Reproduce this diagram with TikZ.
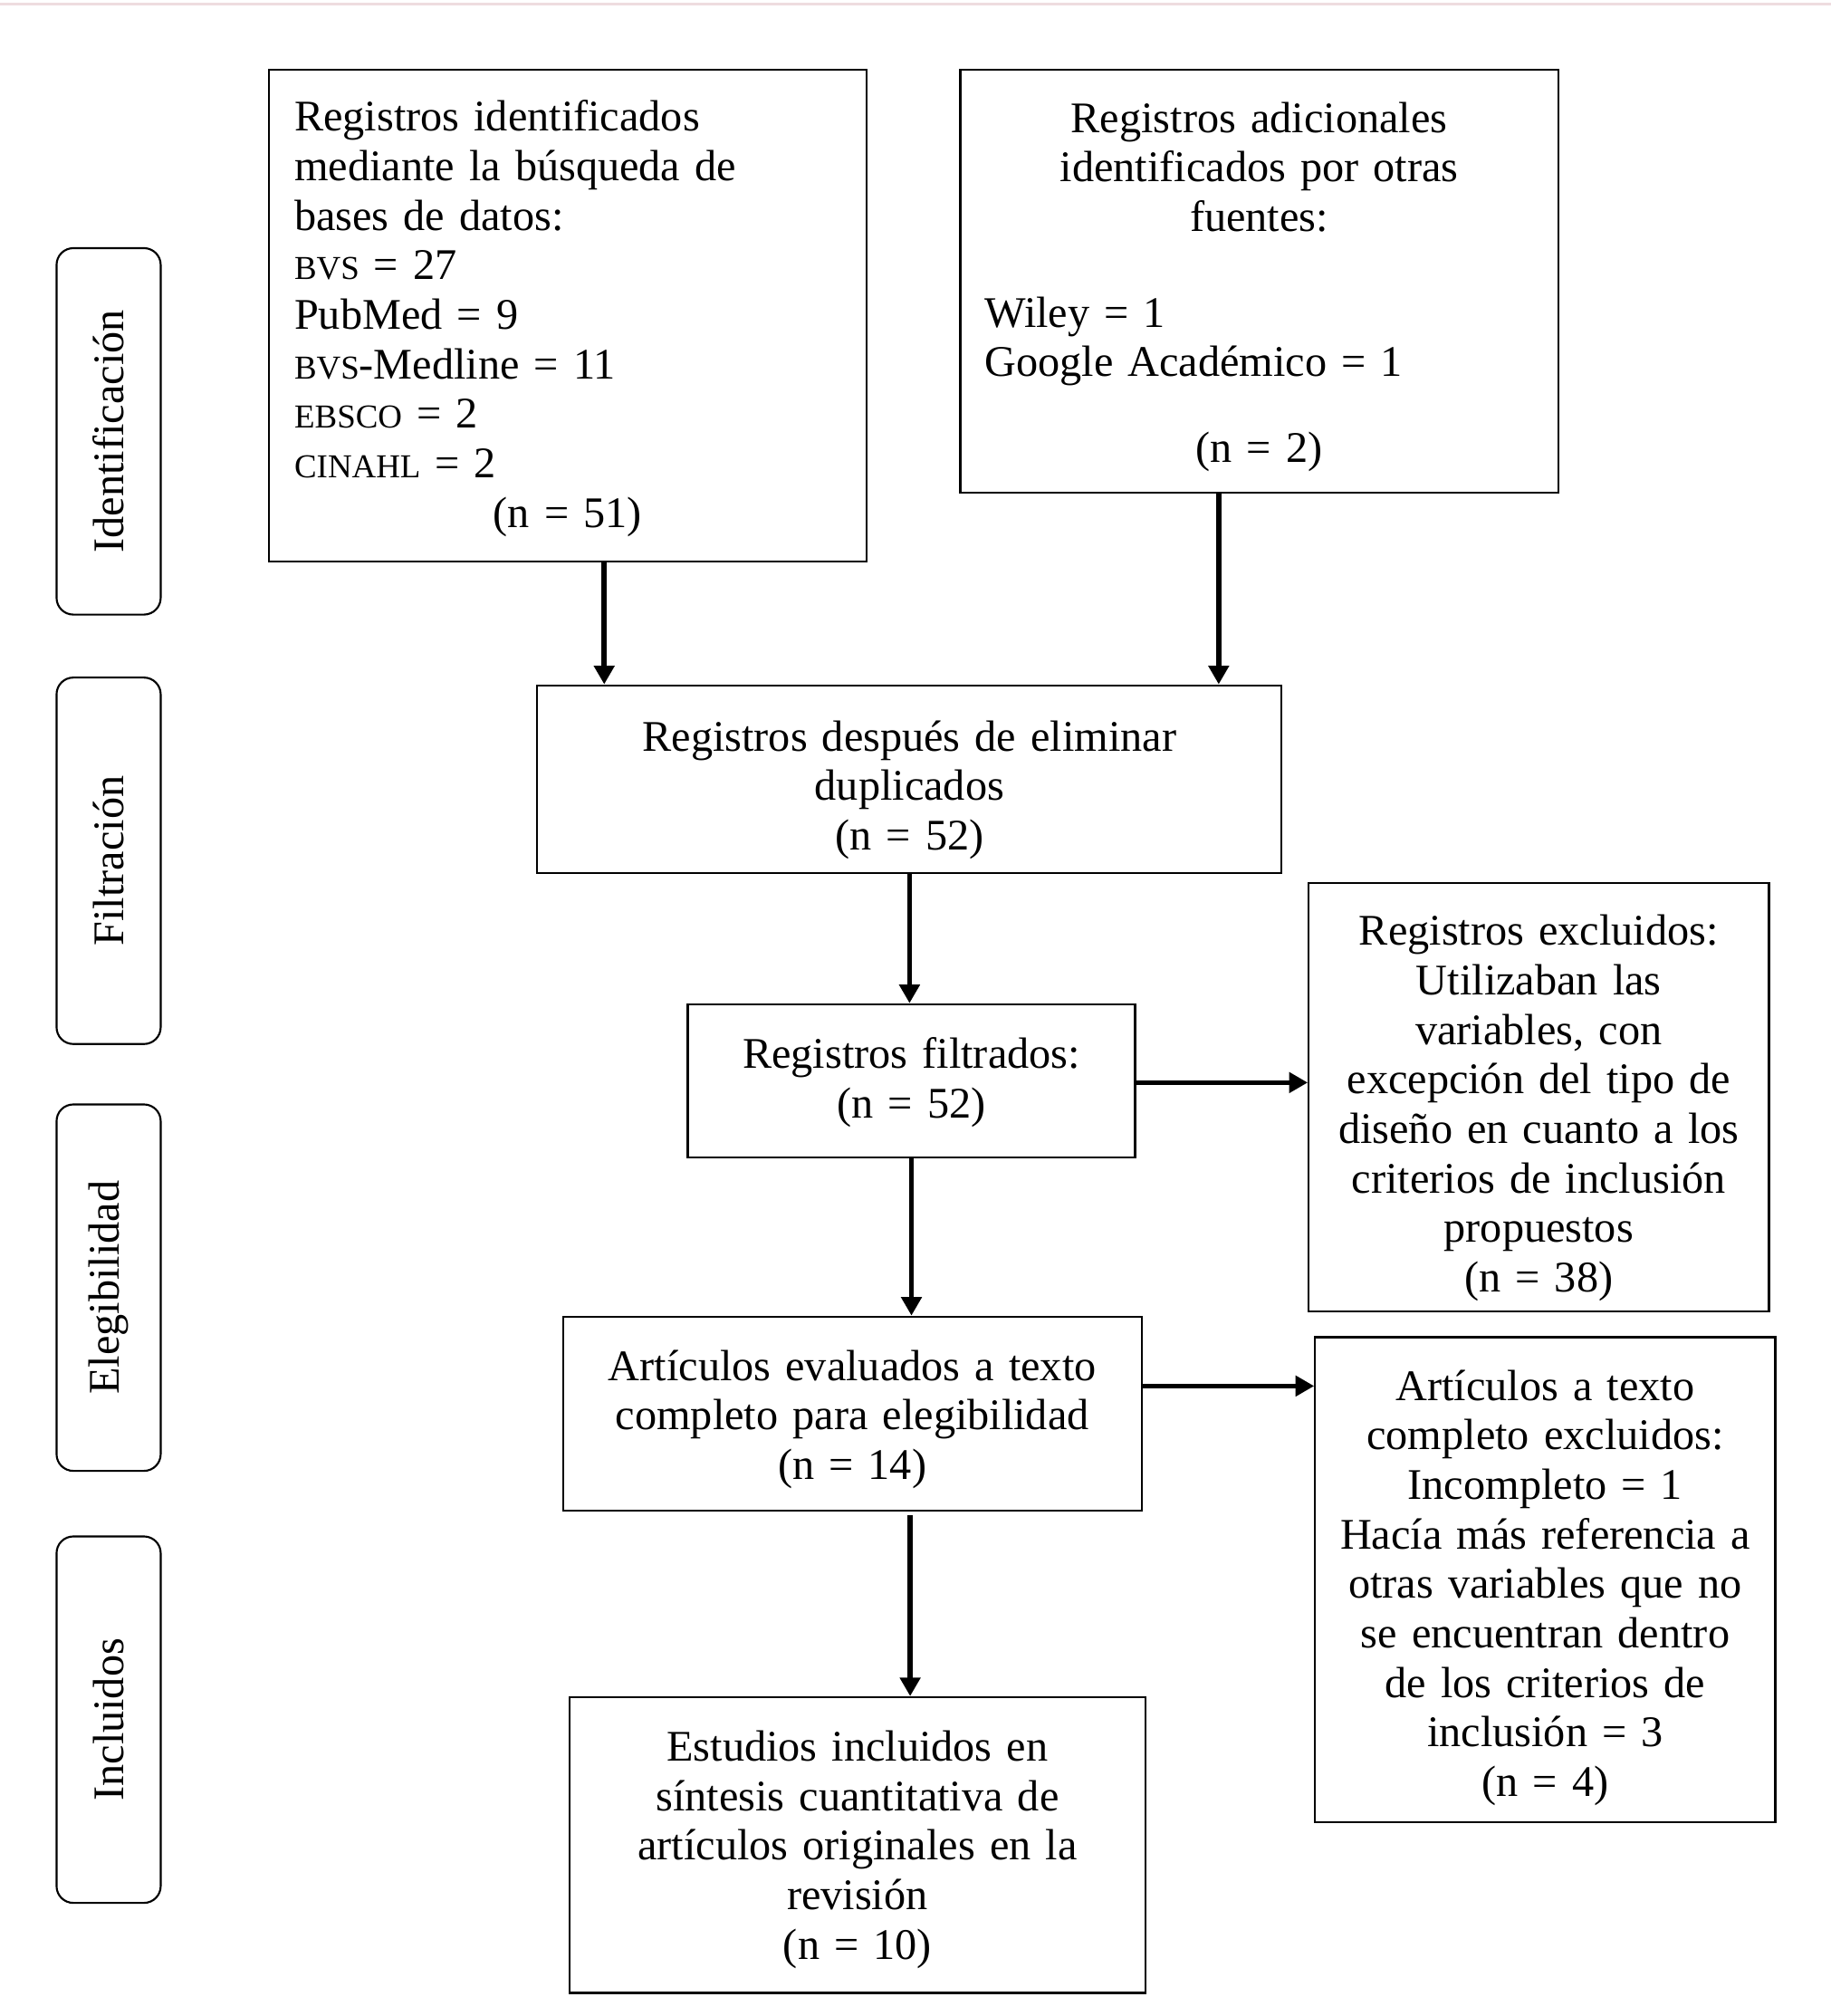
\documentclass[tikz,border=0pt]{standalone}
\usepackage{fontspec}
\setmainfont{Liberation Serif}
\usetikzlibrary{arrows.meta}
\definecolor{topline}{RGB}{238,220,223}
\newcommand\smc[1]{{\fontsize{26}{38.5}\selectfont #1}}
\begin{document}
\begin{tikzpicture}[x=1pt,y=-1pt,
  every node/.style={font=\fontsize{34}{38.5}\selectfont},
  box/.style={draw, line width=1.5pt, rectangle, inner sep=0pt},
  phase/.style={draw, line width=1.5pt, rounded corners=13pt, rotate=90,
    minimum width=285pt, minimum height=81pt, inner sep=0pt},
  arr/.style={line width=4pt, -{Triangle[length=14.5pt,width=15.5pt]}}]
\useasboundingbox (0,0) rectangle (1424,1568);
\draw[line width=2pt, color=topline] (0,3) -- (1424,3);

% phase labels
\node[phase] (p1) at (84.5,335.5) {Identificación};
\node[phase] (p2) at (84.5,669.5) {Filtración};
\node[phase] (p3) at (84.5,1001.5) {Elegibilidad};
\node[phase] (p4) at (84.5,1337.5) {Incluidos};

% boxes
\node[box, minimum width=465pt, minimum height=383pt, text width=425pt, align=left] (b1) at (441.5,245.5)
  {\vskip-10pt Registros identificados\\ mediante la búsqueda de\\ bases de datos:\\ \smc{BVS} = 27\\ PubMed = 9\\ \smc{BVS}-Medline = 11\\ \smc{EBSCO} = 2\\ \smc{CINAHL} = 2\\ \makebox[425pt][c]{(n = 51)}};

\node[box, minimum width=465pt, minimum height=329pt, text width=427pt, align=center] (b2) at (979.5,218.5)
  {\vskip-6pt Registros adicionales\\ identificados por otras\\ fuentes:\\[36pt] \makebox[427pt][l]{Wiley = 1}\\ \makebox[427pt][l]{Google Académico = 1}\\[28pt] (n = 2)};

\node[box, minimum width=579pt, minimum height=146pt, text width=540pt, align=center] (b3) at (707.5,606)
  {\vskip2pt Registros después de eliminar\\ duplicados\\ (n = 52)};

\node[box, minimum width=348pt, minimum height=119pt, text width=320pt, align=center] (b4) at (709,840.5)
  {\vskip-12pt Registros filtrados:\\ (n = 52)};

\node[box, minimum width=358pt, minimum height=333pt, text width=340pt, align=center] (b5) at (1197,853.5)
  {\vskip2pt Registros excluidos:\\ Utilizaban las\\ variables, con\\ excepción del tipo de\\ diseño en cuanto a los\\ criterios de inclusión\\ propuestos\\ (n = 38)};

\node[box, minimum width=450pt, minimum height=151pt, text width=420pt, align=center] (b6) at (663,1099.5)
  {\vskip-6pt Artículos evaluados a texto\\ completo para elegibilidad\\ (n = 14)};

\node[box, minimum width=358pt, minimum height=377pt, text width=340pt, align=center] (b7) at (1202,1228.5)
  {\vskip-2pt Artículos a texto\\ completo excluidos:\\ Incompleto = 1\\ Hacía más referencia a\\ otras variables que no\\ se encuentran dentro\\ de los criterios de\\ inclusión = 3\\ (n = 4)};

\node[box, minimum width=448pt, minimum height=230pt, text width=420pt, align=center] (b8) at (667,1435)
  {\vskip-8pt Estudios incluidos en\\ síntesis cuantitativa de\\ artículos originales en la\\ revisión\\ (n = 10)};

% connectors
\draw[arr] ([xshift=28.5pt]b1.south) -- ([xshift=28.5pt]b1.south |- b3.north);
\draw[arr] ([xshift=-31.5pt]b2.south) -- ([xshift=-31.5pt]b2.south |- b3.north);
\draw[arr] (b3.south) -- (b3.south |- b4.north);
\draw[arr] ([yshift=-1.5pt]b4.east) -- ([yshift=-1.5pt]b4.east -| b5.west);
\draw[arr] (b4.south) -- (b4.south |- b6.north);
\draw[arr] ([yshift=21.5pt]b6.east) -- ([yshift=21.5pt]b6.east -| b7.west);
\draw[arr] ([xshift=45pt,yshift=-3pt]b6.south) -- ([xshift=45pt]b6.south |- b8.north);
\end{tikzpicture}
\end{document}
